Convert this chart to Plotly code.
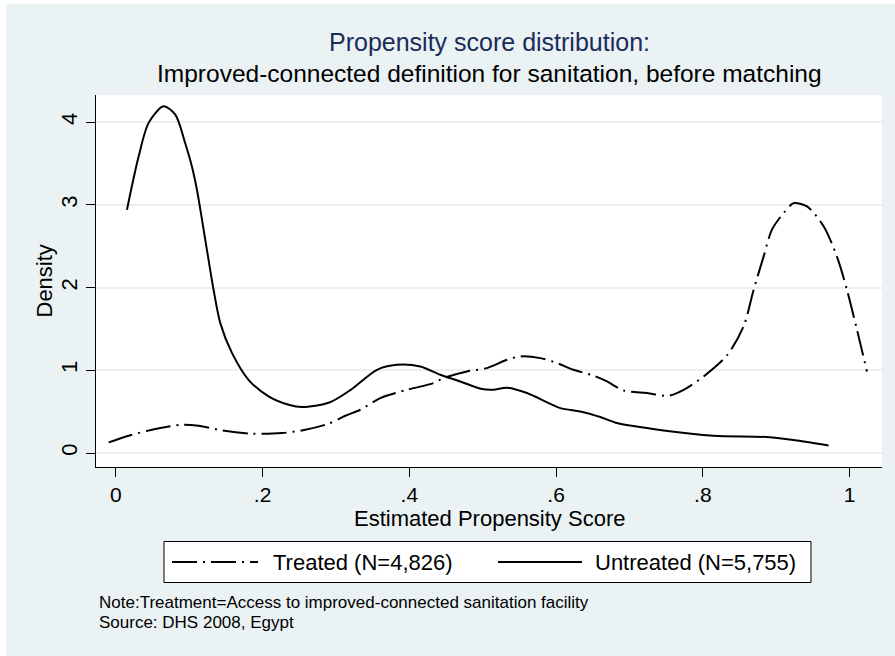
import plotly.graph_objects as go

# Kernel density estimates of the propensity score, by treatment status
treated_x = [-0.0099, 0.0173, 0.0537, 0.0901, 0.1127, 0.1446, 0.1855, 0.2264, 0.2581,
             0.2899, 0.3127, 0.3331, 0.3603, 0.3968, 0.4330, 0.4466, 0.4785, 0.5058,
             0.5331, 0.5512, 0.5785, 0.6012, 0.6238, 0.6511, 0.6694, 0.6920, 0.7239,
             0.7533, 0.7738, 0.8010, 0.8329, 0.8555, 0.8692, 0.8828, 0.8942, 0.9101,
             0.9237, 0.9420, 0.9646, 0.9828, 0.9965, 1.0101, 1.0237]
treated_y = [0.128, 0.209, 0.290, 0.342, 0.330, 0.273, 0.233, 0.241, 0.281,
             0.355, 0.450, 0.523, 0.664, 0.764, 0.845, 0.906, 0.986, 1.026,
             1.127, 1.167, 1.147, 1.087, 1.006, 0.935, 0.865, 0.756, 0.725,
             0.692, 0.764, 0.925, 1.180, 1.530, 1.970, 2.374, 2.700, 2.900,
             3.020, 2.980, 2.740, 2.374, 1.970, 1.490, 0.986]

untreated_x = [0.0151, 0.0309, 0.0446, 0.0650, 0.0810, 0.0946, 0.1037, 0.1105, 0.1218,
               0.1332, 0.1423, 0.1582, 0.1808, 0.2081, 0.2354, 0.2537, 0.2910, 0.3195,
               0.3559, 0.3831, 0.4149, 0.4422, 0.4694, 0.4990, 0.5148, 0.5331, 0.5603,
               0.6057, 0.6329, 0.6603, 0.6830, 0.7465, 0.8146, 0.8874, 0.9283, 0.9714]
untreated_y = [2.94, 3.58, 3.99, 4.19, 4.09, 3.74, 3.46, 3.18, 2.58,
               1.97, 1.57, 1.21, 0.885, 0.684, 0.583, 0.555, 0.610, 0.760,
               1.006, 1.066, 1.046, 0.946, 0.865, 0.773, 0.765, 0.790, 0.725,
               0.543, 0.503, 0.435, 0.362, 0.273, 0.209, 0.193, 0.152, 0.092]

x_tickvals = [0, 0.2, 0.4, 0.6, 0.8, 1]
x_ticktext = ["0", ".2", ".4", ".6", ".8", "1"]
y_tickvals = [0, 1, 2, 3, 4]

treated_name = "Treated (N=4,826)"
untreated_name = "Untreated (N=5,755)"
title_line1 = "Propensity score distribution:"
title_line2 = "Improved-connected definition for sanitation, before matching"
note_lines = ["Note:Treatment=Access to improved-connected sanitation facility",
              "Source: DHS 2008, Egypt"]

W, H = 895, 656
ML, MR, MT, MB = 96, 13, 95, 189
PW, PH = W - ML - MR, H - MT - MB

BG = "#EAF2F3"
FONT = "Liberation Sans, Arial, sans-serif"
DASHDOT = "25px,6px,2px,6px"


def px_x(px):
    return (px - ML) / PW


def px_y(py):
    return (H - MB - py) / PH


fig = go.Figure()
fig.add_trace(go.Scatter(x=treated_x, y=treated_y, mode="lines", name=treated_name,
                         line=dict(color="black", width=2, dash=DASHDOT, shape="spline",
                                   smoothing=0.8),
                         showlegend=False))
fig.add_trace(go.Scatter(x=untreated_x, y=untreated_y, mode="lines", name=untreated_name,
                         line=dict(color="black", width=2, shape="spline", smoothing=0.8),
                         showlegend=False))

shapes = [
    # thin white frame along the top and left edges
    dict(type="rect", xref="paper", yref="paper", x0=px_x(0), x1=px_x(W + 5),
         y0=px_y(4), y1=px_y(-5), fillcolor="white", line=dict(width=0), layer="below"),
    dict(type="rect", xref="paper", yref="paper", x0=px_x(-5), x1=px_x(6),
         y0=px_y(H + 5), y1=px_y(-5), fillcolor="white", line=dict(width=0), layer="below"),
    # legend box and key lines
    dict(type="rect", xref="paper", yref="paper", x0=px_x(164), x1=px_x(811),
         y0=px_y(582.5), y1=px_y(541.5), fillcolor="white",
         line=dict(color="black", width=1)),
    dict(type="line", xref="paper", yref="paper", x0=px_x(172), x1=px_x(258),
         y0=px_y(562), y1=px_y(562), line=dict(color="black", width=2, dash=DASHDOT)),
    dict(type="line", xref="paper", yref="paper", x0=px_x(498), x1=px_x(582),
         y0=px_y(562), y1=px_y(562), line=dict(color="black", width=2)),
]

annotations = [
    dict(text=title_line1, xref="paper", yref="paper", x=0.5, y=px_y(42),
         xanchor="center", yanchor="middle", showarrow=False,
         font=dict(family=FONT, size=25, color="#1B2B5A")),
    dict(text=title_line2, xref="paper", yref="paper", x=0.5, y=px_y(73),
         xanchor="center", yanchor="middle", showarrow=False,
         font=dict(family=FONT, size=24.5, color="black")),
    dict(text="Density", xref="paper", yref="paper", x=px_x(43.5), y=0.5,
         xanchor="center", yanchor="middle", textangle=-90, showarrow=False,
         font=dict(family=FONT, size=22, color="black")),
    dict(text="Estimated Propensity Score", xref="paper", yref="paper", x=0.5,
         y=px_y(518), xanchor="center", yanchor="middle", showarrow=False,
         font=dict(family=FONT, size=22, color="black")),
    dict(text=treated_name, xref="paper", yref="paper", x=px_x(271), y=px_y(562),
         xanchor="left", yanchor="middle", showarrow=False,
         font=dict(family=FONT, size=22, color="black")),
    dict(text=untreated_name, xref="paper", yref="paper", x=px_x(593), y=px_y(562),
         xanchor="left", yanchor="middle", showarrow=False,
         font=dict(family=FONT, size=22, color="black")),
    dict(text=note_lines[0], xref="paper", yref="paper", x=px_x(97), y=px_y(602),
         xanchor="left", yanchor="middle", showarrow=False,
         font=dict(family=FONT, size=17, color="black")),
    dict(text=note_lines[1], xref="paper", yref="paper", x=px_x(97), y=px_y(622),
         xanchor="left", yanchor="middle", showarrow=False,
         font=dict(family=FONT, size=17, color="black")),
]

fig.update_layout(
    width=W, height=H,
    margin=dict(l=ML, r=MR, t=MT, b=MB, pad=0),
    paper_bgcolor=BG, plot_bgcolor="white",
    font=dict(family=FONT, size=22, color="black"),
    shapes=shapes, annotations=annotations,
    xaxis=dict(range=[-0.0271, 1.0442], tickvals=x_tickvals, ticktext=x_ticktext,
               showgrid=False, zeroline=False, showline=True, linecolor="black",
               linewidth=1, ticks="outside", ticklen=9, tickcolor="black",
               tickfont=dict(family=FONT, size=21, color="black")),
    yaxis=dict(range=[-0.169, 4.327], tickvals=y_tickvals, showgrid=True,
               gridcolor="#E8F0F2", gridwidth=2, zeroline=False, showline=True,
               linecolor="black", linewidth=1, ticks="outside", ticklen=9,
               tickcolor="black", tickangle=-90,
               tickfont=dict(family=FONT, size=22, color="black")),
)

fig.write_html("out.html")
